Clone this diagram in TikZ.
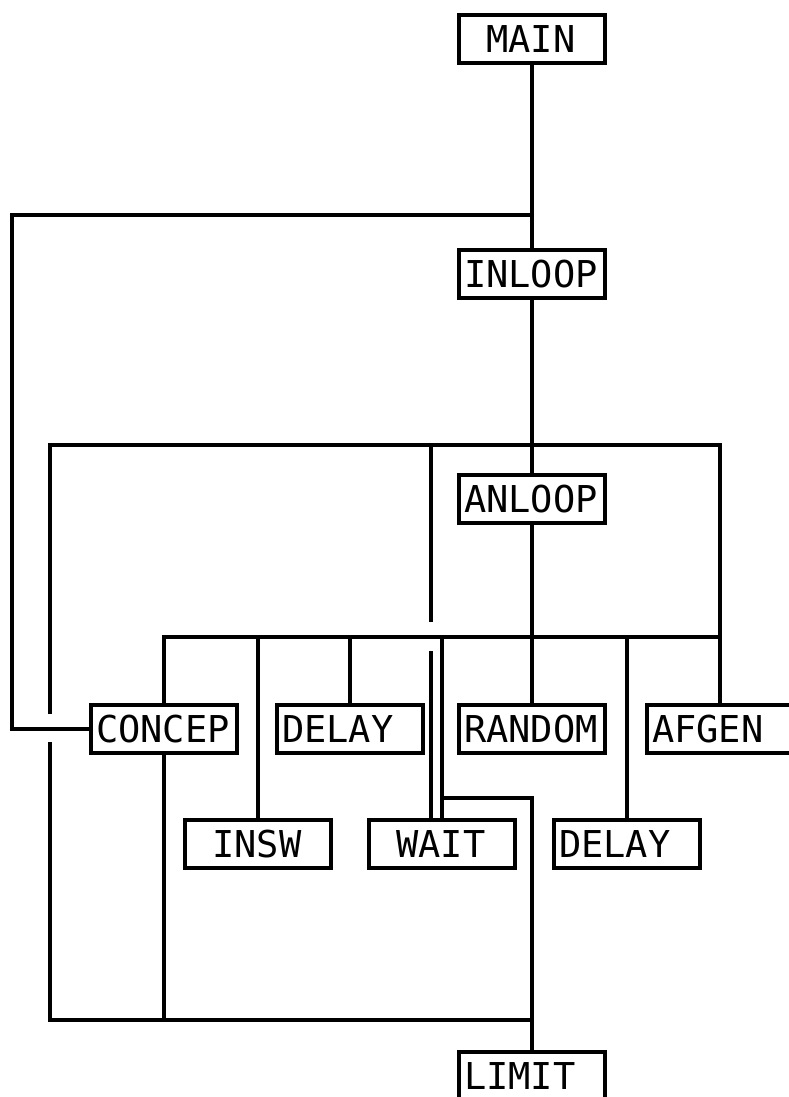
\documentclass[tikz,border=0pt]{standalone}
\usepackage{fontspec}
\newfontfamily\plotfont{DejaVu Sans Mono}
\newcommand\blab[1]{\makebox[136pt][l]{#1}}
\newcommand\pad{\hphantom{M}}
\tikzset{
  blk/.style={draw, line width=3.2pt, fill=white, minimum width=146pt,
    minimum height=48pt, inner sep=0pt, text height=27pt, text depth=0pt,
    font=\plotfont\fontsize{37}{37}\selectfont},
  wire/.style={line width=3.2pt}
}
\begin{document}
\begin{tikzpicture}[x=1pt,y=-1pt]
\useasboundingbox (0,0) rectangle (789,1097);
\clip (0,0) rectangle (789,1097);
% boxes
\node[blk] (main)   at (532,39)   {\blab{\pad MAIN}};
\node[blk] (inloop) at (532,274)  {\blab{INLOOP}};
\node[blk] (anloop) at (532,499)  {\blab{ANLOOP}};
\node[blk] (concep) at (164,729)  {\blab{CONCEP}};
\node[blk] (delaya) at (350,729)  {\blab{DELAY}};
\node[blk] (random) at (532,729)  {\blab{RANDOM}};
\node[blk] (afgen)  at (720,729)  {\blab{AFGEN}};
\node[blk] (insw)   at (258,844)  {\blab{\pad INSW}};
\node[blk] (wait)   at (442,844)  {\blab{\pad WAIT}};
\node[blk] (delayb) at (627,844)  {\blab{DELAY}};
\node[blk] (limit)  at (532,1076) {\blab{LIMIT}};
% junction coordinates
\coordinate (j1) at (532,215);
\coordinate (l1) at (12,215);
\coordinate (ftl) at (50,445);
\coordinate (ftr) at (720,445);
\coordinate (bus) at (720,637);
\coordinate (busl) at (164,637);
\coordinate (g1) at (50,714);
\coordinate (g2) at (50,742);
\coordinate (fbl) at (50,1020);
\coordinate (fbr) at (532,1020);
\coordinate (cb) at (164,1020);
\coordinate (w1) at (431,445);
\coordinate (w2) at (431,622);
\coordinate (w3) at (431,651);
\coordinate (w4) at (431,821);
\coordinate (wb) at (442,637);
\coordinate (wt) at (442,798);
\coordinate (lt) at (532,798);
% connectors
\draw[wire] (main.south) -- (inloop.north);
\draw[wire] (j1) -- (l1) |- (concep.west);
\draw[wire] (inloop.south) -- (anloop.north);
\draw[wire] (g1) -- (ftl) -- (ftr) -- (bus) -- (busl) -- (concep.north);
\draw[wire] (g2) -- (fbl) -- (fbr);
\draw[wire] (concep.south) -- (cb);
\draw[wire] (anloop.south) -- (random.north);
\draw[wire] (insw.north) -- (insw.north |- bus);
\draw[wire] (delaya.north) -- (delaya.north |- bus);
\draw[wire] (delayb.north) -- (delayb.north |- bus);
\draw[wire] (afgen.north) -- (afgen.north |- bus);
\draw[wire] (w1) -- (w2);
\draw[wire] (w3) -- (w4);
\draw[wire] (wb) -- (wait.north);
\draw[wire] (wt) -- (lt) -- (limit.north);
\end{tikzpicture}
\end{document}
